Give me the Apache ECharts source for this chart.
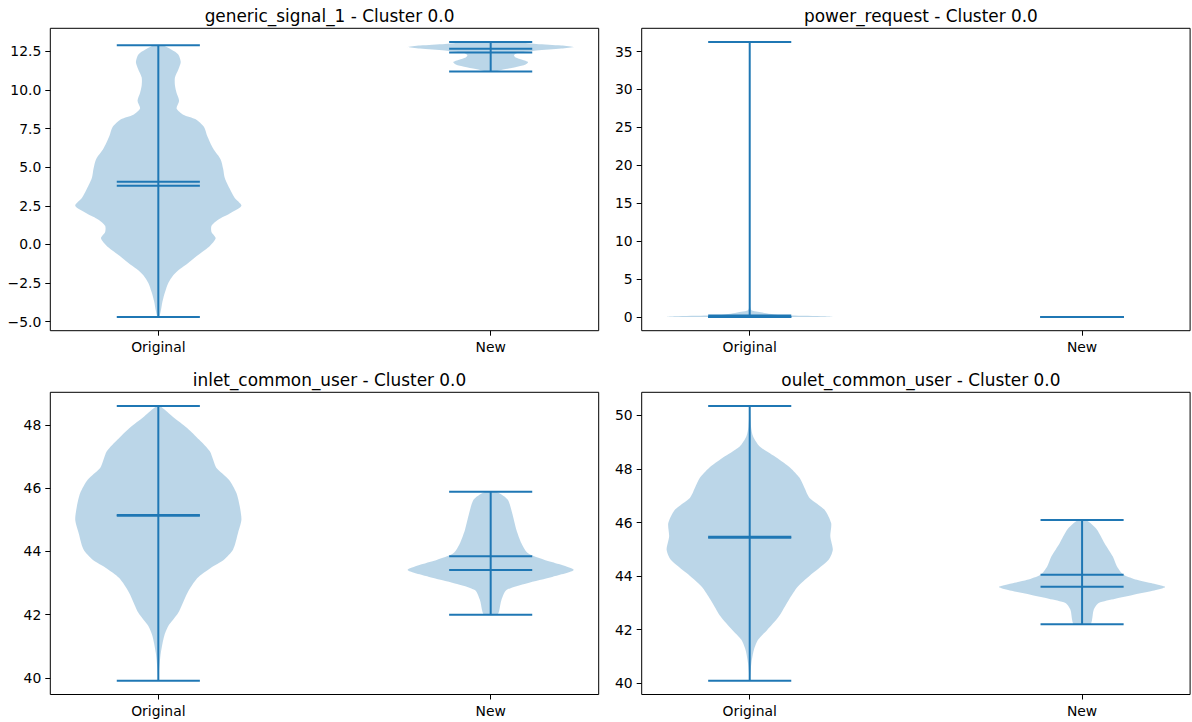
<!DOCTYPE html>
<html><head><meta charset="utf-8">
<script src="https://cdn.jsdelivr.net/npm/echarts@6/dist/echarts.min.js"></script>
<style>html,body{margin:0;padding:0;background:#fff}#c{width:1192px;height:722px}</style>
</head><body><div id="c"></div>
<script>
// ---------- data ----------
const categories = ['Original', 'New'];
const panelTitles = [
  'generic_signal_1 - Cluster 0.0',
  'power_request - Cluster 0.0',
  'inlet_common_user - Cluster 0.0',
  'oulet_common_user - Cluster 0.0'
];

// violin profiles: [value, relative half-width (1 = widest)]
const gs1OriginalProfile = [[-4.70,0.01],[-4.3,0.03],[-3.7,0.05],[-3.1,0.08],[-2.5,0.12],[-2.0,0.18],[-1.6,0.26],[-1.2,0.36],[-0.6,0.50],[-0.1,0.62],[0.4,0.69],[0.8,0.64],[1.2,0.64],[1.6,0.72],[2.0,0.86],[2.5,1.0],[3.0,0.92],[3.6,0.86],[4.3,0.80],[4.9,0.78],[5.5,0.75],[6.2,0.66],[7.0,0.59],[7.6,0.55],[8.1,0.45],[8.4,0.30],[8.8,0.22],[9.3,0.25],[9.8,0.22],[10.3,0.20],[10.8,0.20],[11.3,0.24],[11.8,0.27],[12.3,0.24],[12.6,0.16],[12.89,0.05]];
const gs1NewProfile = [[11.20,0.05],[11.35,0.18],[11.5,0.32],[11.65,0.42],[11.8,0.45],[11.95,0.38],[12.1,0.30],[12.25,0.28],[12.4,0.33],[12.55,0.55],[12.68,0.85],[12.78,1.0],[12.88,0.85],[12.98,0.55],[13.10,0.25]];
const gs1Min = [-4.70, 11.20];
const gs1Max = [12.89, 13.10];
const gs1Mean = [4.05, 12.67];
const gs1Median = [3.79, 12.43];
const gs1Ticks = [-5, -2.5, 0, 2.5, 5, 7.5, 10, 12.5];

const powerOriginalProfile = [[0,1.0],[0.1,0.9],[0.2,0.5],[0.3,0.32],[0.5,0.2],[0.7,0.1],[0.9,0.02],[1.5,0.003],[36.25,0.0]];
const powerNewProfile = [];
const powerMin = [0, 0];
const powerMax = [36.25, 0];
const powerMean = [0.2, 0];
const powerMedian = [0, 0];
const powerTicks = [0, 5, 10, 15, 20, 25, 30, 35];

const inletOriginalProfile = [[39.91,0.0],[40.3,0.01],[40.79,0.03],[41.32,0.07],[41.64,0.12],[42.06,0.24],[42.69,0.35],[43.16,0.47],[43.48,0.63],[43.74,0.79],[44.06,0.90],[44.59,0.96],[45.0,1.0],[45.43,0.98],[45.85,0.94],[46.27,0.85],[46.64,0.70],[46.9,0.66],[47.17,0.62],[47.54,0.49],[47.9,0.35],[48.27,0.17],[48.60,0.02]];
const inletNewProfile = [[42.0,0.08],[42.1,0.10],[42.47,0.13],[42.78,0.19],[42.99,0.43],[43.2,0.75],[43.41,1.0],[43.6,0.82],[43.73,0.65],[43.94,0.45],[44.26,0.37],[44.68,0.31],[45.2,0.26],[45.62,0.21],[45.8,0.13],[45.89,0.06]];
const inletMin = [39.91, 42.00];
const inletMax = [48.60, 45.89];
const inletMean = [45.15, 43.85];
const inletMedian = [45.13, 43.41];
const inletTicks = [40, 42, 44, 46, 48];

const outletOriginalProfile = [[40.09,0.0],[40.74,0.02],[41.24,0.05],[41.62,0.10],[41.99,0.21],[42.49,0.35],[43.11,0.47],[43.61,0.58],[44.11,0.76],[44.61,0.95],[44.98,1.0],[45.48,0.97],[45.98,0.98],[46.48,0.90],[46.92,0.72],[47.29,0.66],[47.67,0.60],[48.04,0.49],[48.41,0.33],[48.84,0.12],[49.22,0.04],[49.59,0.015],[50.35,0.0]];
const outletNewProfile = [[42.2,0.10],[42.37,0.12],[42.74,0.14],[42.99,0.20],[43.15,0.40],[43.3,0.62],[43.45,0.85],[43.59,1.0],[43.72,0.85],[43.86,0.66],[44.05,0.50],[44.36,0.42],[44.73,0.37],[45.23,0.27],[45.73,0.18],[45.98,0.10],[46.09,0.04]];
const outletMin = [40.09, 42.20];
const outletMax = [50.35, 46.09];
const outletMean = [45.47, 44.05];
const outletMedian = [45.43, 43.60];
const outletTicks = [40, 42, 44, 46, 48, 50];

// ---------- chart ----------
const panels = [
  {profiles:[gs1OriginalProfile, gs1NewProfile], mins:gs1Min, maxs:gs1Max, means:gs1Mean, medians:gs1Median, ticks:gs1Ticks, dec:1},
  {profiles:[powerOriginalProfile, powerNewProfile], mins:powerMin, maxs:powerMax, means:powerMean, medians:powerMedian, ticks:powerTicks, dec:0},
  {profiles:[inletOriginalProfile, inletNewProfile], mins:inletMin, maxs:inletMax, means:inletMean, medians:inletMedian, ticks:inletTicks, dec:0},
  {profiles:[outletOriginalProfile, outletNewProfile], mins:outletMin, maxs:outletMax, means:outletMean, medians:outletMedian, ticks:outletTicks, dec:0}
];
const gridBoxes = [
  {left:50.3, top:28.3, width:548.4, height:302.4},
  {left:641.7, top:28.3, width:548.4, height:302.4},
  {left:50.3, top:392.3, width:548.4, height:302.2},
  {left:641.7, top:392.3, width:548.4, height:302.2}
];
const HALF = 0.25, CAP = 0.125;
const BLUE = '#1f77b4';
const FONT = 'DejaVu Sans';

function fmt(v, dec) {
  const s = Math.abs(v).toFixed(dec);
  return v < 0 ? '\u2212' + s : s;
}

function makeRender(p) {
  return function (params, api) {
    const i = api.value(0);
    const pos = api.value(1);
    const prof = p.profiles[i];
    const children = [];
    if (prof.length) {
      const right = prof.map(d => api.coord([pos + d[1] * HALF, d[0]]));
      const left = prof.slice().reverse().map(d => api.coord([pos - d[1] * HALF, d[0]]));
      children.push({type:'polygon', shape:{points: right.concat(left), smooth: 0.25},
        style:{fill:'rgba(31,119,180,0.3)'}});
    }
    const ln = (x1, y1, x2, y2) => {
      const a = api.coord([x1, y1]), b = api.coord([x2, y2]);
      return {type:'line', shape:{x1:a[0], y1:a[1], x2:b[0], y2:b[1]}, style:{stroke:BLUE, lineWidth:2}};
    };
    children.push(ln(pos, p.mins[i], pos, p.maxs[i]));
    [p.mins[i], p.maxs[i], p.means[i], p.medians[i]].forEach(v => children.push(ln(pos - CAP, v, pos + CAP, v)));
    return {type:'group', children};
  };
}

const option = {
  animation:false,
  backgroundColor:'#fff',
  title: panelTitles.map((t, k) => ({
    text:t, left: gridBoxes[k].left + gridBoxes[k].width / 2, textAlign:'center',
    top: gridBoxes[k].top - 26,
    textStyle:{fontFamily:FONT, fontSize:16.9, fontWeight:'normal', color:'#000'}
  })),
  grid: gridBoxes.map(g => Object.assign({show:true, borderColor:'#000', borderWidth:1, backgroundColor:'transparent', containLabel:false}, g)),
  xAxis: panels.map((p, k) => ({
    type:'value', gridIndex:k, min:0.675, max:2.325, position:'bottom',
    axisLine:{show:false, onZero:false}, splitLine:{show:false},
    axisTick:{show:true, length:5, lineStyle:{color:'#000', width:1}, customValues:[1, 2]},
    axisLabel:{customValues:[1, 2], margin:9, fontFamily:FONT, fontSize:13.9, color:'#000',
      formatter: v => categories[Math.round(v) - 1]}
  })),
  yAxis: panels.map((p, k) => {
    const lo = Math.min(...p.mins), hi = Math.max(...p.maxs), pad = (hi - lo) * 0.05;
    return {
      type:'value', gridIndex:k, min: lo - pad, max: hi + pad, position:'left',
      axisLine:{show:false, onZero:false}, splitLine:{show:false},
      axisTick:{show:true, length:5, lineStyle:{color:'#000', width:1}, customValues:p.ticks},
      axisLabel:{customValues:p.ticks, margin:9, fontFamily:FONT, fontSize:13.9, color:'#000',
        formatter: v => fmt(v, p.dec)}
    };
  }),
  series: panels.map((p, k) => ({
    type:'custom', xAxisIndex:k, yAxisIndex:k,
    renderItem: makeRender(p),
    encode:{x:1, y:2},
    data: categories.map((c, i) => [i, i + 1, p.maxs[i]]),
    clip:false
  }))
};

const chart = echarts.init(document.getElementById('c'), null, {renderer:'svg'});
chart.setOption(option);
</script>
</body></html>
